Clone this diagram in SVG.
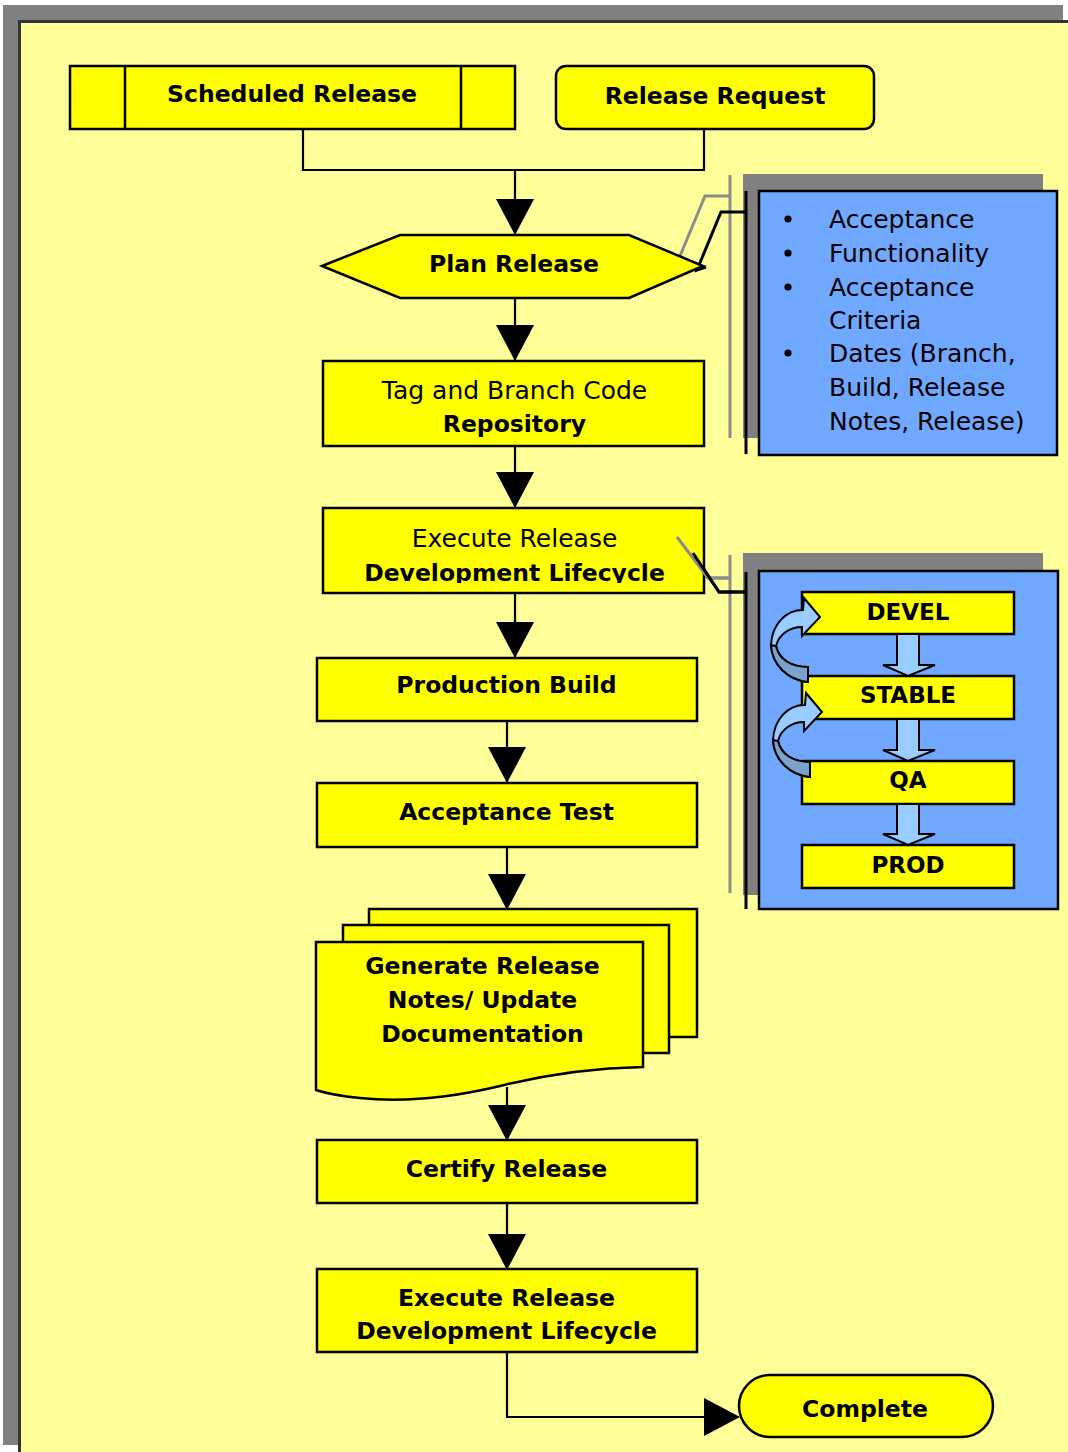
<svg xmlns="http://www.w3.org/2000/svg" width="1068" height="1452" viewBox="0 0 1068 1452">
  <defs>
    <style>
      .node { fill: #FFFF00; stroke: #000; stroke-width: 2.5; }
      .blue { fill: #70A8FF; stroke: #000; stroke-width: 2.5; }
      .shadow { fill: #808080; }
      .conn { fill: none; stroke: #000; stroke-width: 2.2; }
      .callout-g { fill: none; stroke: #8C8C8C; stroke-width: 3; }
      .callout-k { fill: none; stroke: #000; stroke-width: 3; }
      .b { font-family: "DejaVu Sans", "Liberation Sans", sans-serif; font-weight: bold; font-size: 23.5px; fill: #000; text-anchor: middle; }
      .r { font-family: "DejaVu Sans", "Liberation Sans", sans-serif; font-size: 25px; fill: #000; text-anchor: middle; }
      .list { font-family: "DejaVu Sans", "Liberation Sans", sans-serif; font-size: 25px; fill: #000; }
      .stage { font-family: "DejaVu Sans", "Liberation Sans", sans-serif; font-weight: bold; font-size: 23px; fill: #000; text-anchor: middle; }
      .flow { fill: #99CCFF; stroke: #000; stroke-width: 2; stroke-linejoin: miter; }
      .flow-back { fill: #7BA2CC; stroke: #000; stroke-width: 2; }
    </style>
    <marker id="head" markerUnits="userSpaceOnUse" viewBox="0 0 36 38" refX="35" refY="19" markerWidth="36" markerHeight="38" orient="auto">
      <path d="M0,0 L36,19 L0,38 Z" fill="#000"/>
    </marker>
    <clipPath id="clipExec">
      <rect x="323" y="508" width="381" height="75"/>
    </clipPath>
    <path id="curl" d="M804,598 L820,617 L802,636 L802,627 C790,627 779,634 776,646 C779,660 792,667 808,667 L808,682 C788,680 772,665 771,645 C772,624 786,610 803,610 Z"/>
    <path id="curlBack" d="M776,646 C779,660 792,667 808,667 L808,682 C788,680 772,665 771,645 Z"/>
  </defs>

  <!-- page frame -->
  <rect x="0" y="0" width="1068" height="1452" fill="#FFFFFF"/>
  <rect x="3" y="5" width="1060" height="1440" fill="#808080"/>
  <rect x="19.5" y="21.5" width="1060" height="1440" fill="#FFFF99" stroke="#333" stroke-width="3"/>

  <!-- note panel: release plan contents -->
  <g id="plan-notes">
    <rect class="shadow" x="743" y="174" width="300" height="264"/>
    <line x1="730" y1="175" x2="730" y2="438" stroke="#8C8C8C" stroke-width="3"/>
    <line x1="746" y1="191" x2="746" y2="454" stroke="#000" stroke-width="3"/>
    <rect class="blue" x="759" y="191" width="298" height="264"/>
    <polyline class="callout-g" points="731,196 705,196 680,256"/>
    <polyline class="callout-k" points="746,212 721,212 697,270 706,267"/>
    <circle cx="788" cy="219" r="3.6"/>
    <circle cx="788" cy="253" r="3.6"/>
    <circle cx="788" cy="287" r="3.6"/>
    <circle cx="788" cy="353" r="3.6"/>
    <text class="list" x="829" y="228">Acceptance</text>
    <text class="list" x="829" y="262">Functionality</text>
    <text class="list" x="829" y="296">Acceptance</text>
    <text class="list" x="829" y="329">Criteria</text>
    <text class="list" x="829" y="362">Dates (Branch,</text>
    <text class="list" x="829" y="396">Build, Release</text>
    <text class="list" x="829" y="430">Notes, Release)</text>
  </g>

  <!-- note panel: branch lifecycle -->
  <g id="lifecycle-notes">
    <rect class="shadow" x="743" y="553" width="300" height="342"/>
    <line x1="730" y1="555" x2="730" y2="893" stroke="#8C8C8C" stroke-width="3"/>
    <line x1="746" y1="572" x2="746" y2="909" stroke="#000" stroke-width="3"/>
    <rect class="blue" x="759" y="571" width="299" height="338"/>
    <polyline class="callout-g" points="677,537 708,578 731,578"/>
    <polyline class="callout-k" points="693,553 719,592 746,592"/>

    <g id="stage-devel">
      <rect class="node" x="802" y="592" width="212" height="42"/>
      <text class="stage" x="908" y="620">DEVEL</text>
    </g>
    <g id="stage-stable">
      <rect class="node" x="802" y="676" width="212" height="43"/>
      <text class="stage" x="908" y="703">STABLE</text>
    </g>
    <g id="stage-qa">
      <rect class="node" x="802" y="761" width="212" height="43"/>
      <text class="stage" x="908" y="788">QA</text>
    </g>
    <g id="stage-prod">
      <rect class="node" x="802" y="845" width="212" height="43"/>
      <text class="stage" x="908" y="873">PROD</text>
    </g>

    <!-- promotion arrows -->
    <path class="flow" d="M897,634 H919 V665 H935 L908,676 L883,665 H897 Z"/>
    <path class="flow" d="M897,719 H919 V750 H935 L908,761 L883,750 H897 Z"/>
    <path class="flow" d="M897,804 H919 V834 H935 L908,845 L883,834 H897 Z"/>

    <!-- merge-back curls -->
    <use href="#curl" class="flow"/>
    <use href="#curlBack" class="flow-back"/>
    <g transform="translate(2,95)">
      <use href="#curl" class="flow"/>
      <use href="#curlBack" class="flow-back"/>
    </g>
  </g>

  <!-- connectors -->
  <g id="connectors">
    <polyline class="conn" points="303,129 303,170 704,170 704,130"/>
    <line class="conn" x1="515" y1="170" x2="515" y2="234" marker-end="url(#head)"/>
    <line class="conn" x1="515" y1="298" x2="515" y2="360" marker-end="url(#head)"/>
    <line class="conn" x1="515" y1="446" x2="515" y2="507" marker-end="url(#head)"/>
    <line class="conn" x1="515" y1="593" x2="515" y2="657" marker-end="url(#head)"/>
    <line class="conn" x1="507" y1="721" x2="507" y2="782" marker-end="url(#head)"/>
    <line class="conn" x1="507" y1="847" x2="507" y2="909" marker-end="url(#head)"/>
    <line class="conn" x1="507" y1="1087" x2="507" y2="1140" marker-end="url(#head)"/>
    <line class="conn" x1="507" y1="1203" x2="507" y2="1269" marker-end="url(#head)"/>
    <polyline class="conn" points="507,1352 507,1417 739,1417" marker-end="url(#head)"/>
  </g>

  <g id="scheduled-release">
    <rect class="node" x="70" y="66" width="445" height="63"/>
    <line x1="125" y1="66" x2="125" y2="129" stroke="#000" stroke-width="2.5"/>
    <line x1="461" y1="66" x2="461" y2="129" stroke="#000" stroke-width="2.5"/>
    <text class="b" x="292" y="102">Scheduled Release</text>
  </g>

  <g id="release-request">
    <rect class="node" x="556" y="66" width="318" height="63" rx="10"/>
    <text class="b" x="715" y="104">Release Request</text>
  </g>

  <g id="plan-release">
    <polygon class="node" points="322,266 400,235 629,235 703,266 629,298 400,298"/>
    <text class="b" x="514" y="272">Plan Release</text>
  </g>

  <g id="tag-branch">
    <rect class="node" x="323" y="361" width="381" height="85"/>
    <text class="r" x="514.5" y="399">Tag and Branch Code</text>
    <text class="b" x="514.5" y="432">Repository</text>
  </g>

  <g id="execute-lifecycle">
    <rect class="node" x="323" y="508" width="381" height="85"/>
    <text class="r" x="514.5" y="547">Execute Release</text>
    <text class="b" x="514.5" y="581" clip-path="url(#clipExec)">Development Lifecycle</text>
  </g>

  <!-- callout lines sit over the box edge -->
  <polyline class="callout-g" points="677,537 708,578 731,578"/>
  <polyline class="callout-k" points="693,553 719,592 746,592"/>

  <g id="production-build">
    <rect class="node" x="317" y="658" width="380" height="63"/>
    <text class="b" x="506.5" y="693">Production Build</text>
  </g>

  <g id="acceptance-test">
    <rect class="node" x="317" y="783" width="380" height="64"/>
    <text class="b" x="506.5" y="820">Acceptance Test</text>
  </g>

  <g id="release-notes">
    <rect class="node" x="369" y="909" width="328" height="128"/>
    <rect class="node" x="343" y="925" width="326" height="128"/>
    <path class="node" d="M316,942 H643 V1067 C590,1068 540,1076 500,1086 C450,1098 400,1102 360,1098 C340,1096 325,1093 316,1090 Z"/>
    <text class="b" x="482.5" y="974">Generate Release</text>
    <text class="b" x="482.5" y="1008">Notes/ Update</text>
    <text class="b" x="482.5" y="1042">Documentation</text>
  </g>

  <g id="certify-release">
    <rect class="node" x="317" y="1140" width="380" height="63"/>
    <text class="b" x="506.5" y="1177">Certify Release</text>
  </g>

  <g id="execute-release">
    <rect class="node" x="317" y="1269" width="380" height="83"/>
    <text class="b" x="506.5" y="1306">Execute Release</text>
    <text class="b" x="506.5" y="1339">Development Lifecycle</text>
  </g>

  <g id="complete">
    <rect class="node" x="739" y="1375" width="254" height="62" rx="31"/>
    <text class="b" x="865" y="1417">Complete</text>
  </g>
</svg>
